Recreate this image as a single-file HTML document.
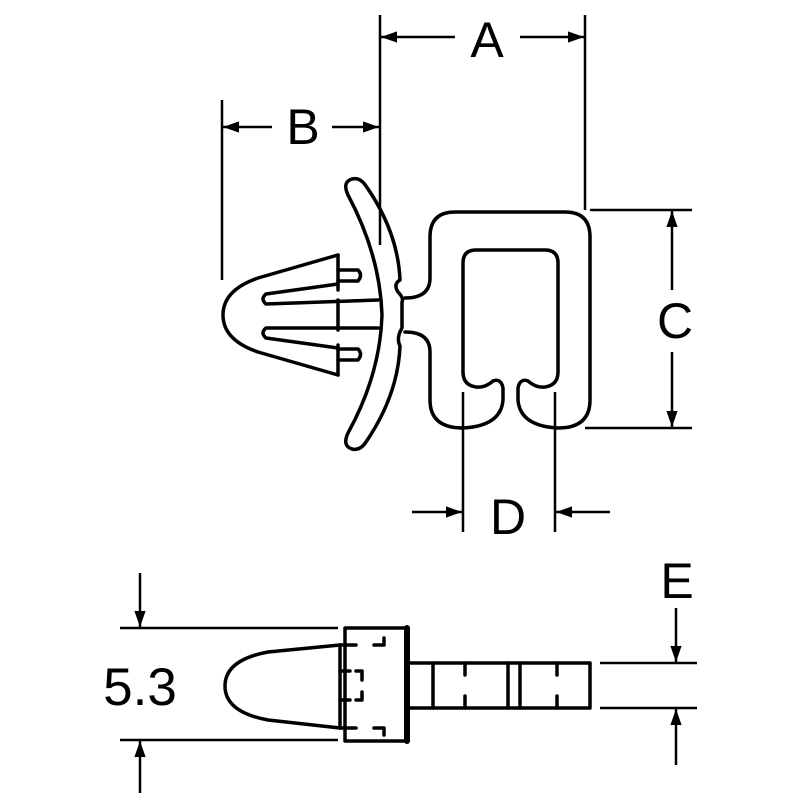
<!DOCTYPE html>
<html><head><meta charset="utf-8"><style>
html,body{margin:0;padding:0;background:#fff;}
svg{display:block;}
text{font-family:"Liberation Sans",sans-serif;fill:#000;}
</style></head><body>
<svg width="800" height="800" viewBox="0 0 800 800" xmlns="http://www.w3.org/2000/svg">
<defs>
<marker id="ar" viewBox="0 0 10 10" refX="10" refY="5" markerWidth="16" markerHeight="16" markerUnits="userSpaceOnUse" orient="auto">
<path d="M0,1.5 L10,5 L0,8.5 Z" fill="#000"/>
</marker>
</defs>
<g stroke="#000" fill="none" stroke-width="2.5">
<!-- A -->
<line x1="380" y1="15" x2="380" y2="245"/>
<line x1="585" y1="15" x2="585" y2="210"/>
<line x1="455" y1="37" x2="381" y2="37" marker-end="url(#ar)"/>
<line x1="520" y1="37" x2="584" y2="37" marker-end="url(#ar)"/>
<!-- B -->
<line x1="222" y1="100" x2="222" y2="280"/>
<line x1="272" y1="127" x2="223" y2="127" marker-end="url(#ar)"/>
<line x1="332" y1="127" x2="379" y2="127" marker-end="url(#ar)"/>
<!-- C -->
<line x1="590" y1="210" x2="692" y2="210"/>
<line x1="585" y1="428" x2="692" y2="428"/>
<line x1="672" y1="290" x2="672" y2="211" marker-end="url(#ar)"/>
<line x1="672" y1="352" x2="672" y2="427" marker-end="url(#ar)"/>
<!-- D -->
<line x1="463" y1="392" x2="463" y2="532"/>
<line x1="555" y1="392" x2="555" y2="532"/>
<line x1="412" y1="512" x2="462" y2="512" marker-end="url(#ar)"/>
<line x1="610" y1="512" x2="556" y2="512" marker-end="url(#ar)"/>
<!-- 5.3 -->
<line x1="120" y1="628" x2="338" y2="628"/>
<line x1="120" y1="740" x2="338" y2="740"/>
<line x1="140" y1="573" x2="140" y2="627" marker-end="url(#ar)"/>
<line x1="140" y1="793" x2="140" y2="741" marker-end="url(#ar)"/>
<!-- E -->
<line x1="600" y1="663" x2="697" y2="663"/>
<line x1="600" y1="708" x2="697" y2="708"/>
<line x1="676" y1="608" x2="676" y2="662" marker-end="url(#ar)"/>
<line x1="676" y1="765" x2="676" y2="709" marker-end="url(#ar)"/>
</g>
<g stroke="#000" fill="none" stroke-width="3.5" stroke-linejoin="round" stroke-linecap="round">
<!-- U clip -->
<path d="M405 298 Q430 298 430 278 L430 237 Q430 212 455 212 L565 212 Q590 212 590 237 L590 400 Q590 428 558 428 Q520 426 518 400 L518 388 Q520 378 528 381 Q536 388 545 387 Q558 385 558 372 L558 263 Q558 250 545 250 L476 250 Q463 250 463 263 L463 372 Q463 385 476 387 Q485 388 493 381 Q501 378 503 388 L503 400 Q501 426 463 428 Q430 428 430 400 L430 352 Q430 332 405 332"/>
<!-- arc band -->
<path d="M348 195 Q342 182 352 179 Q360 177 366 186 Q398 232 400 280 Q393 284 398 292 Q404 298 402 302 L402 328 Q396 338 400 346 Q398 395 366 442 Q360 451 352 449 Q342 446 348 433 Q380 375 382 315 Q380 255 348 195 Z"/>
<!-- pin -->
<path d="M338 255 L258 278 Q223 290 223 315 Q223 340 258 352 L338 375"/>
<line x1="338" y1="255" x2="338" y2="290"/>
<line x1="338" y1="300" x2="338" y2="330"/>
<line x1="338" y1="345" x2="338" y2="375"/>
<path d="M338 284 L266 294 Q260 299 266 304 L378 300"/>
<path d="M378 328 L266 328 Q260 333 266 338 L338 348"/>
<path d="M338 270 L358 270 Q363 275 358 281 L338 281"/>
<path d="M338 349 L358 349 Q363 354 358 360 L338 360"/>
<!-- bottom view -->
<rect x="345" y="628" width="62" height="113"/>
<line x1="407" y1="628" x2="407" y2="741" stroke-width="6"/>
<path d="M340 645 L268 652 Q225 660 225 686 Q225 712 268 720 L340 728"/>
<line x1="340" y1="645" x2="340" y2="728"/>
<path d="M340 645 L356 645 M374 645 L384 645 L384 638"/>
<path d="M340 728 L356 728 M374 728 L384 728 L384 735"/>
<path d="M340 671 L350 671 M356 671 L362 671 L362 680 M340 700 L350 700 M356 700 L362 700 L362 692"/>
<rect x="407" y="663" width="183" height="45"/>
<line x1="433" y1="663" x2="433" y2="708"/>
<line x1="508" y1="663" x2="508" y2="708"/>
<line x1="520" y1="663" x2="520" y2="708"/>
<path d="M465 663 L465 675 M465 696 L465 708 M557 663 L557 675 M557 696 L557 708"/>
</g>
<g font-size="50">
<text x="487" y="57" text-anchor="middle">A</text>
<text x="303" y="144" text-anchor="middle">B</text>
<text x="675" y="338" text-anchor="middle">C</text>
<text x="508" y="534" text-anchor="middle">D</text>
<text x="677" y="598" text-anchor="middle">E</text>
<text x="140" y="705" text-anchor="middle" font-size="53">5.3</text>
</g>
</svg>
</body></html>
